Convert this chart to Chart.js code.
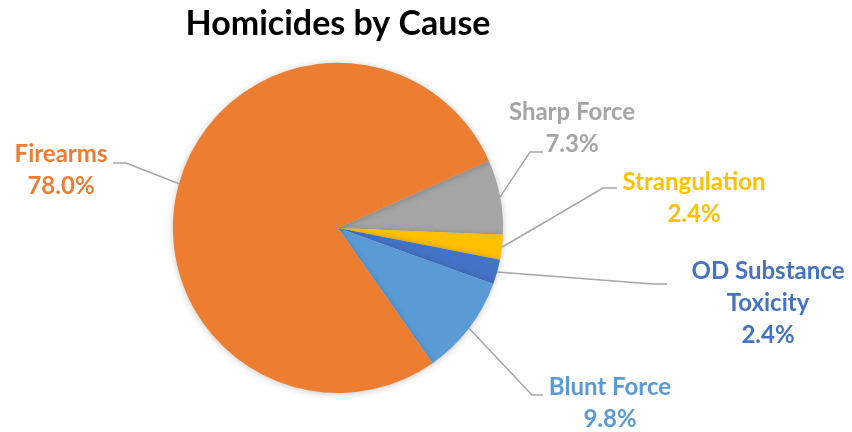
<!DOCTYPE html>
<html>
<head>
<meta charset="utf-8">
<script src="https://cdn.jsdelivr.net/npm/chart.js@4"></script>
<style>
  body { margin: 0; background: #fff; }
  #wrap { width: 852px; height: 432px; position: relative; }
</style>
</head>
<body>
<div id="wrap"><canvas id="pieChart"></canvas></div>
<script>
// slices in clockwise order, starting just above 3 o'clock
const categories = ["Sharp Force", "Strangulation", ["OD Substance", "Toxicity"], "Blunt Force", "Firearms"];
const counts = [3, 1, 1, 4, 32];
const colors = ["#A5A5A5", "#FFC000", "#4472C4", "#5B9BD5", "#ED7D31"];

// where each label sits: text centre, elbow of leader line, end of short horizontal bit
const labelSpots = [
  { x: 572, y: 112, ex: 530, ey: 152, hx: 543 },
  { x: 694, y: 182, ex: 603, ey: 188, hx: 617 },
  { x: 768, y: 271, ex: 653, ey: 284, hx: 667 },
  { x: 610, y: 387, ex: 532, ey: 395, hx: 543 },
  { x: 61,  y: 154, ex: 126, ey: 163, hx: 113 }
];

const FONT = "Lato, 'Open Sans', sans-serif";

const outsideLabels = {
  id: "outsideLabels",
  afterDatasetsDraw(chart) {
    const ctx = chart.ctx;
    const meta = chart.getDatasetMeta(0);
    const data = chart.data.datasets[0].data;
    const total = data.reduce((a, b) => a + b, 0);
    ctx.save();
    meta.data.forEach((arc, i) => {
      const spot = labelSpots[i];
      const mid = (arc.startAngle + arc.endAngle) / 2;
      const px = arc.x + Math.cos(mid) * arc.outerRadius;
      const py = arc.y + Math.sin(mid) * arc.outerRadius;

      // leader line
      ctx.strokeStyle = "#A6A6A6";
      ctx.lineWidth = 1.5;
      ctx.beginPath();
      ctx.moveTo(px, py);
      ctx.lineTo(spot.ex, spot.ey);
      ctx.lineTo(spot.hx, spot.ey);
      ctx.stroke();

      // text
      let lines = chart.data.labels[i];
      if (!Array.isArray(lines)) lines = [lines];
      lines = lines.concat([(data[i] / total * 100).toFixed(1) + "%"]);
      ctx.fillStyle = colors[i];
      ctx.font = "bold 24px " + FONT;
      ctx.textAlign = "center";
      ctx.textBaseline = "middle";
      lines.forEach((t, j) => {
        ctx.fillText(t, spot.x, spot.y + j * 32);
      });
    });
    ctx.restore();
  }
};

const softShadow = {
  id: "softShadow",
  beforeDatasetsDraw(chart) {
    const ctx = chart.ctx;
    ctx.save();
    ctx.shadowColor = "rgba(0,0,0,0.22)";
    ctx.shadowBlur = 7;
    ctx.shadowOffsetX = 0;
    ctx.shadowOffsetY = 1;
  },
  afterDatasetsDraw(chart) {
    chart.ctx.restore();
  }
};

new Chart(document.getElementById("pieChart"), {
  type: "pie",
  data: {
    labels: categories,
    datasets: [{
      data: counts,
      backgroundColor: colors,
      borderWidth: 0
    }]
  },
  options: {
    responsive: true,
    maintainAspectRatio: false,
    animation: false,
    rotation: 66,
    layout: { padding: { left: 0, right: 176, top: 0, bottom: 39 } },
    plugins: {
      legend: { display: false },
      tooltip: { enabled: false },
      title: {
        display: true,
        text: "Homicides by Cause",
        color: "#000",
        font: { family: FONT, size: 34, weight: "bold" },
        padding: { top: 4, bottom: 18 }
      }
    }
  },
  plugins: [softShadow, outsideLabels]
});
</script>
</body>
</html>
